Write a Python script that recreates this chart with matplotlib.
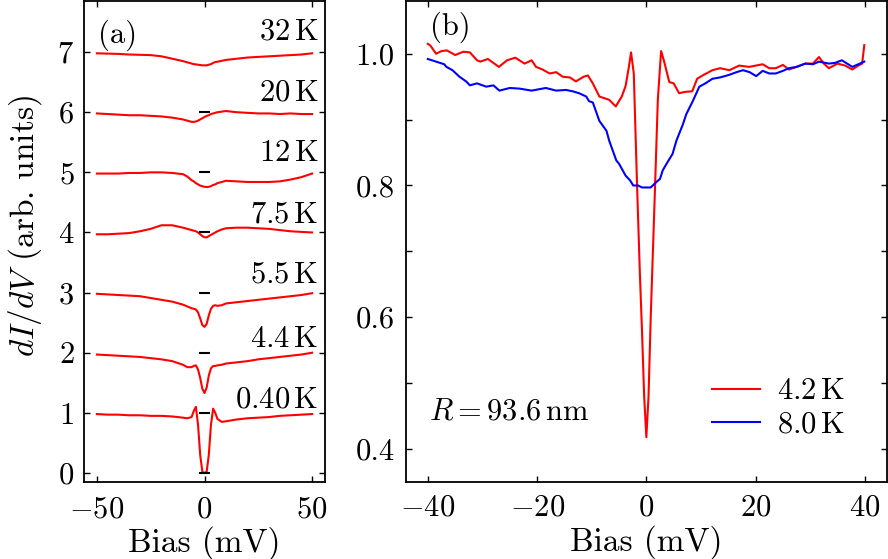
import matplotlib
matplotlib.use("Agg")
import matplotlib.pyplot as plt
from matplotlib.ticker import MultipleLocator, FixedLocator, FuncFormatter

plt.rcParams['font.family'] = 'serif'
plt.rcParams['font.serif'] = ['cmr10']
plt.rcParams['mathtext.fontset'] = 'cm'
plt.rcParams['axes.formatter.use_mathtext'] = True
plt.rcParams['axes.unicode_minus'] = True

# ---------------- Panel (a) data ----------------
bias_a = [-50, -45, -40, -35, -30, -25, -20, -15, -10, -8, -6, -5, -4, -3, -2, -1, 0,
          1, 2, 3, 4, 5, 6, 8, 10, 15, 20, 25, 30, 35, 40, 45, 50]

didv_32K = [6.98, 6.975, 6.97, 6.96, 6.955, 6.95, 6.93, 6.89, 6.85, 6.83, 6.81, 6.80, 6.795, 6.79, 6.785, 6.78, 6.78,
            6.78, 6.79, 6.80, 6.82, 6.835, 6.84, 6.855, 6.87, 6.89, 6.91, 6.92, 6.93, 6.94, 6.95, 6.96, 6.98]
didv_20K = [5.98, 5.97, 5.96, 5.95, 5.95, 5.94, 5.93, 5.91, 5.88, 5.86, 5.84, 5.84, 5.845, 5.86, 5.88, 5.90, 5.92,
            5.94, 5.95, 5.97, 5.98, 5.99, 6.00, 6.01, 6.02, 6.00, 5.99, 5.98, 5.98, 5.97, 5.98, 5.97, 5.97]
didv_12K = [4.98, 4.98, 4.98, 4.99, 4.99, 5.00, 5.00, 4.99, 4.97, 4.93, 4.87, 4.85, 4.82, 4.80, 4.78, 4.77, 4.76,
            4.755, 4.76, 4.77, 4.79, 4.80, 4.82, 4.84, 4.86, 4.85, 4.84, 4.84, 4.84, 4.85, 4.88, 4.92, 4.98]
didv_7p5K = [3.97, 3.97, 3.98, 3.99, 4.02, 4.06, 4.12, 4.12, 4.08, 4.06, 4.04, 4.03, 4.02, 4.00, 3.97, 3.94, 3.92,
             3.92, 3.94, 3.96, 3.98, 4.00, 4.02, 4.05, 4.07, 4.08, 4.08, 4.07, 4.06, 4.04, 4.02, 4.01, 4.00]
didv_5p5K = [2.98, 2.97, 2.96, 2.95, 2.94, 2.91, 2.88, 2.85, 2.80, 2.77, 2.74, 2.73, 2.72, 2.67, 2.57, 2.46, 2.43,
             2.48, 2.62, 2.73, 2.78, 2.79, 2.78, 2.79, 2.82, 2.84, 2.86, 2.88, 2.90, 2.92, 2.94, 2.96, 2.99]
didv_4p4K = [1.97, 1.96, 1.95, 1.94, 1.93, 1.91, 1.89, 1.86, 1.80, 1.76, 1.76, 1.78, 1.79, 1.72, 1.58, 1.40, 1.33,
             1.42, 1.62, 1.74, 1.78, 1.78, 1.79, 1.80, 1.82, 1.84, 1.86, 1.89, 1.91, 1.93, 1.95, 1.97, 2.00]
didv_0p40K = [0.98, 0.97, 0.97, 0.96, 0.96, 0.95, 0.95, 0.94, 0.92, 0.91, 0.93, 1.03, 1.10, 0.80, 0.30, 0.02, 0.00,
              0.02, 0.30, 0.80, 1.07, 1.00, 0.90, 0.85, 0.86, 0.89, 0.91, 0.92, 0.93, 0.95, 0.96, 0.97, 0.98]

curves_a = [didv_32K, didv_20K, didv_12K, didv_7p5K, didv_5p5K, didv_4p4K, didv_0p40K]
temp_labels = ['32', '20', '12', '7.5', '5.5', '4.4', '0.40']
label_y = [7.34, 6.33, 5.31, 4.30, 3.30, 2.22, 1.22]
zero_levels = [0, 1, 2, 3, 4, 5, 6]

# ---------------- Panel (b) data ----------------
bias_42K = [-40, -39.5, -38.5, -37.5, -36.5, -35, -33.5, -32.3, -31, -30.4, -29, -27, -25.5, -24, -22.3,
            -21, -20.2, -19, -17.7, -16.5, -15.3, -14, -12.9, -11.5, -10.7, -9.8, -8.6, -7.5, -6.8, -5.6,
            -4.5, -3.8, -3.2, -2.8, -2.3, -1.7, -1.2, -0.8, -0.4, 0, 0.4, 0.8, 1.2, 1.6, 2.1, 2.7, 3.2,
            4.2, 5, 6, 7, 8.4, 9.3, 10.5, 12.1, 13.5, 15.2, 17, 18.8, 21.3, 22.5, 23.7, 25, 26.1, 27.5,
            29.1, 30.5, 31.6, 32.5, 33.4, 35, 36.4, 37.7, 38.8, 39.5, 39.9]
didv_42K = [1.015, 1.012, 1.0, 1.004, 1.005, 0.998, 1.003, 1.002, 0.99, 0.988, 0.992, 0.98, 0.99, 0.994, 0.985,
            0.99, 0.98, 0.976, 0.97, 0.972, 0.965, 0.964, 0.958, 0.965, 0.967, 0.955, 0.935, 0.932, 0.93, 0.92,
            0.935, 0.951, 0.98, 1.002, 0.97, 0.80, 0.67, 0.58, 0.48, 0.418, 0.48, 0.60, 0.70, 0.80, 0.93, 1.004, 0.99,
            0.957, 0.955, 0.94, 0.942, 0.943, 0.962, 0.968, 0.975, 0.978, 0.975, 0.982, 0.98, 0.984, 0.978, 0.978, 0.983, 0.976, 0.98,
            0.985, 0.985, 0.995, 0.985, 0.978, 0.985, 0.982, 0.976, 0.982, 0.985, 1.013]

bias_80K = [-40, -38.5, -37, -36.6, -35.5, -34.2, -33, -32.3, -31, -29.3, -28, -26.9, -25, -23.2, -21, -18.4,
            -16.5, -14.7, -13.5, -12.3, -11, -10.5, -9.8, -8.6, -7.3, -6.8, -5.5, -5, -3.8, -3, -2.4, -1.5,
            -0.8, 0, 0.8, 1.8, 2.5, 3, 3.7, 4.8, 5.5, 6.7, 7.3, 8.5, 9.7, 10.8, 12.1, 13.5, 15.2, 16.5, 17.7,
            18.9, 20.1, 21.3, 22.5, 23.7, 25, 26.1, 27.5, 29.1, 30.5, 31.6, 33.4, 34.5, 35.8, 37.7, 38.8, 39.9]
didv_80K = [0.992, 0.988, 0.984, 0.98, 0.975, 0.965, 0.958, 0.952, 0.955, 0.95, 0.952, 0.944, 0.948, 0.947, 0.944, 0.948,
            0.944, 0.945, 0.943, 0.94, 0.935, 0.928, 0.926, 0.898, 0.883, 0.868, 0.838, 0.833, 0.815, 0.808, 0.80, 0.80,
            0.797, 0.797, 0.797, 0.805, 0.81, 0.823, 0.833, 0.848, 0.868, 0.893, 0.908, 0.928, 0.95, 0.955, 0.962, 0.964, 0.968, 0.972, 0.975,
            0.972, 0.966, 0.974, 0.97, 0.97, 0.974, 0.978, 0.98, 0.985, 0.984, 0.988, 0.985, 0.986, 0.99, 0.98, 0.984, 0.988]

FS = 22
LFS = 24
fig = plt.figure(figsize=(8.88, 5.59), dpi=100)
axa = fig.add_axes([84/888, 77/559, 241/888, 481/559])
axb = fig.add_axes([406/888, 77/559, 480.7/888, 481/559])

for ax in (axa, axb):
    for s in ax.spines.values():
        s.set_linewidth(1.3)
    ax.tick_params(which='both', direction='in', top=True, right=True,
                   length=4.5, width=1.0, labelsize=FS)

# Panel (a)
for y in curves_a:
    axa.plot(bias_a, y, color='red', lw=1.5)
axa.hlines(zero_levels, -2.5, 2.5, color='black', lw=1.5)
for t, ly in zip(temp_labels, label_y):
    axa.text(52.8, ly, r'$%s\,\mathrm{K}$' % t, ha='right', va='center', fontsize=FS)
axa.set_xlim(-56, 56)
axa.set_ylim(-0.15, 7.85)
axa.xaxis.set_major_locator(FixedLocator([-50, 0, 50]))
axa.yaxis.set_major_locator(MultipleLocator(1))
axa.tick_params(axis='x', pad=10)
axa.tick_params(axis='y', pad=7)
axa.set_xlabel('Bias (mV)', fontsize=LFS, labelpad=2)
axa.set_ylabel(r'$dI/dV$ (arb. units)', fontsize=LFS)
axa.yaxis.set_label_coords(-0.165, 0.532)
axa.text(0.058, 0.962, '(a)', transform=axa.transAxes, ha='left', va='top', fontsize=FS)

# Panel (b)
axb.plot(bias_42K, didv_42K, color='red', lw=1.5, label=r'$4.2\,\mathrm{K}$')
axb.plot(bias_80K, didv_80K, color='blue', lw=1.5, label=r'$8.0\,\mathrm{K}$')
axb.set_xlim(-44, 44)
axb.set_ylim(0.35, 1.08)
axb.xaxis.set_major_locator(MultipleLocator(20))
axb.yaxis.set_major_locator(MultipleLocator(0.2))
axb.yaxis.set_minor_locator(MultipleLocator(0.1))
axb.tick_params(which='minor', length=4.5, width=1.0)
axb.xaxis.set_minor_locator(FixedLocator([]))
axb.yaxis.set_major_formatter(FuncFormatter(lambda v, p: '%.1f' % v))
axb.tick_params(axis='x', pad=9)
axb.tick_params(axis='y', pad=8)
axb.set_xlabel('Bias (mV)', fontsize=LFS, labelpad=2)
axb.text(0.05, 0.978, '(b)', transform=axb.transAxes, ha='left', va='top', fontsize=FS)
axb.text(-39.8, 0.457, r'$R = 93.6\,\mathrm{nm}$', ha='left', va='center', fontsize=FS)
axb.legend(loc='center', bbox_to_anchor=(0.775, 0.153), frameon=False, fontsize=FS,
           handlelength=1.55, handletextpad=0.55, labelspacing=0.2, borderpad=0)

fig.savefig('out.png', dpi=100)
